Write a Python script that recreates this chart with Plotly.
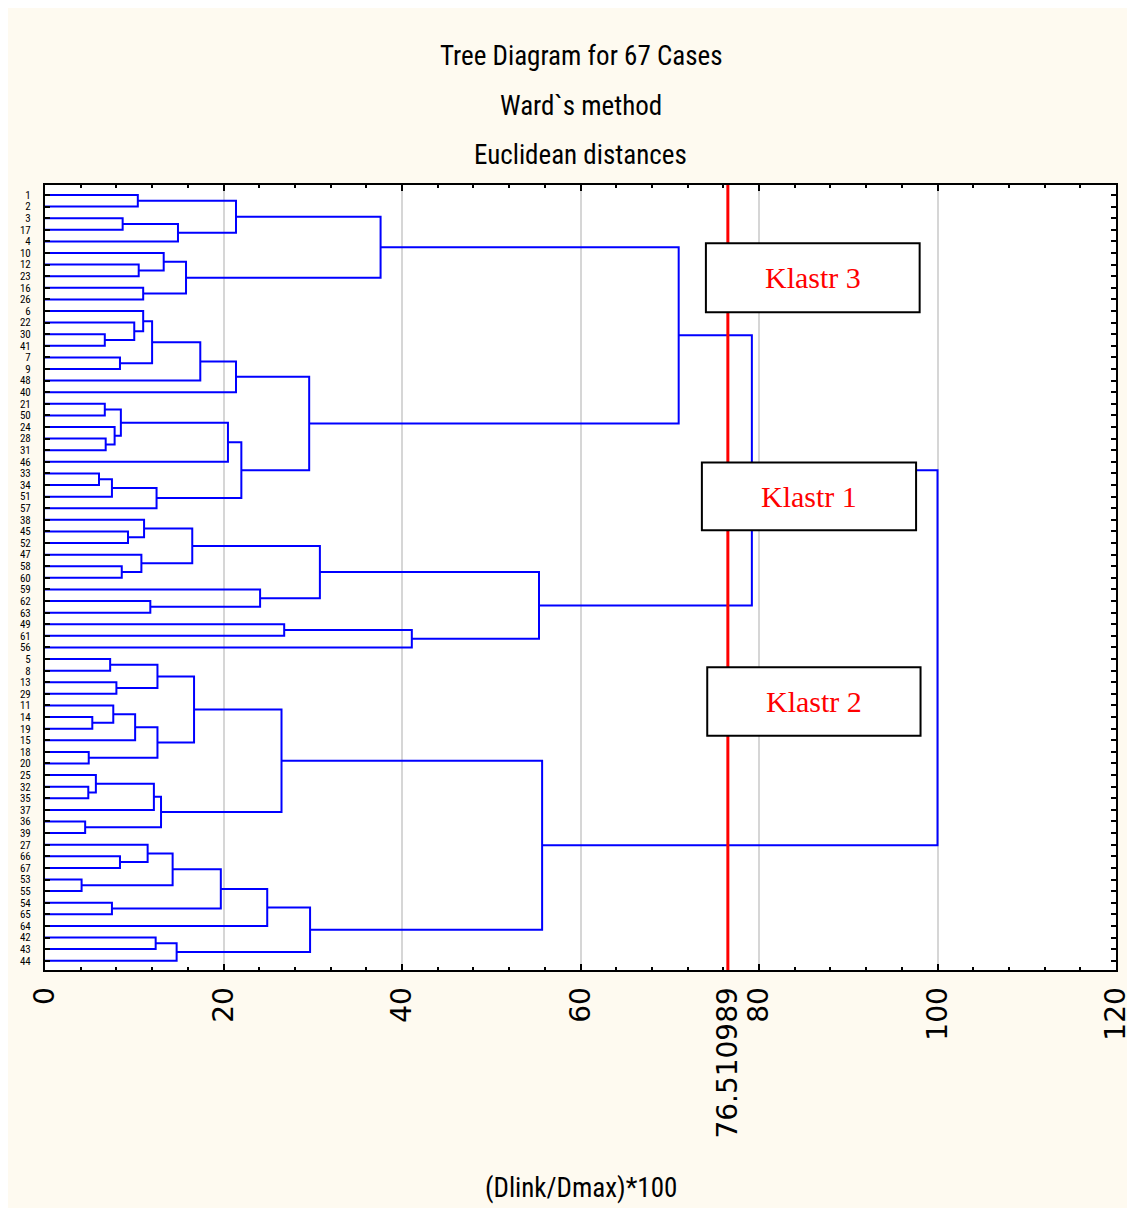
import plotly.graph_objects as go

# ---------------- data ----------------
leaf_labels = [1, 2, 3, 17, 4, 10, 12, 23, 16, 26, 6, 22, 30, 41, 7, 9, 48, 40,
               21, 50, 24, 28, 31, 46, 33, 34, 51, 57, 38, 45, 52, 47, 58, 60,
               59, 62, 63, 49, 61, 56, 5, 8, 13, 29, 11, 14, 19, 15, 18, 20,
               25, 32, 35, 37, 36, 39, 27, 66, 67, 53, 55, 54, 65, 64, 42, 43, 44]

# merges: children are case numbers ("17") or earlier merges ("M5"); merge k is "M{k}"
merge_left = ["1", "3", "M2", "M1", "12", "10", "16", "M6", "M4",
              "30", "22", "6", "7", "M12", "M14", "M15",
              "21", "28", "24", "M17", "M20", "33", "M22", "M23", "M21", "M16", "M9",
              "45", "38", "58", "47", "M29", "62", "59", "M32", "49", "M36", "M35", "M27",
              "5", "13", "M40", "14", "11", "M44", "18", "M45", "M42",
              "32", "25", "M50", "36", "M51", "M48",
              "66", "27", "53", "M56", "54", "M58", "M60", "42", "M62", "M61", "M54", "M39"]
merge_right = ["2", "17", "4", "M3", "23", "M5", "26", "M7", "M8",
               "41", "M10", "M11", "9", "M13", "48", "40",
               "50", "31", "M18", "M19", "46", "34", "51", "57", "M24", "M25", "M26",
               "52", "M28", "60", "M30", "M31", "63", "M33", "M34", "61", "56", "M37", "M38",
               "8", "29", "M41", "19", "M43", "15", "20", "M46", "M47",
               "35", "M49", "37", "39", "M52", "M53",
               "67", "M55", "55", "M57", "65", "M59", "64", "43", "44", "M63", "M64", "M65"]
merge_height = [10.4, 8.7, 14.9, 21.4, 10.5, 13.3, 11.0, 15.8, 37.6,
                6.7, 10.0, 11.0, 8.4, 12.0, 17.4, 21.4,
                6.7, 6.8, 7.8, 8.5, 20.5, 6.05, 7.5, 12.5, 22.0, 29.6, 71.0,
                9.3, 11.1, 8.6, 10.8, 16.5, 11.8, 24.1, 30.8, 26.8, 41.1, 55.35, 79.2,
                7.3, 8.0, 12.6, 5.3, 7.65, 10.1, 4.9, 12.6, 16.7,
                4.85, 5.7, 12.2, 4.5, 13.0, 26.5,
                8.4, 11.5, 4.1, 14.3, 7.5, 19.7, 24.9, 12.4, 14.75, 29.7, 55.7, 100.0]

cut_value = 76.510989
x_ticks = [0, 20, 40, 60, 80, 100, 120]
cluster_names = ["Klastr 3", "Klastr 1", "Klastr 2"]

title_lines = ["Tree Diagram for 67 Cases", "Ward`s method", "Euclidean distances"]
x_title = "(Dlink/Dmax)*100"

# ---------------- tree layout ----------------
pos = {}
for i, lab in enumerate(leaf_labels):
    pos[str(lab)] = (0.0, float(i))

xs, ys = [], []
for k, (a, b, h) in enumerate(zip(merge_left, merge_right, merge_height), start=1):
    xa, ya = pos[a]
    xb, yb = pos[b]
    xs += [xa, h, h, xb, None]
    ys += [ya, ya, yb, yb, None]
    pos["M%d" % k] = (h, (ya + yb) / 2.0)

fig = go.Figure()
fig.add_trace(go.Scatter(x=xs, y=ys, mode="lines",
                         line=dict(color="#0000FF", width=2),
                         hoverinfo="skip", showlegend=False))

narrow = "Liberation Sans Narrow, Arial Narrow, Roboto Condensed, Liberation Sans, sans-serif"

tickvals = sorted(x_ticks + [cut_value])
ticktext = [("%g" % v) if v != cut_value else "76.510989" for v in tickvals]

# page offset of 8px (body margin); plot area in page pixels: x 45..1116, y 185..970
W, H = 1127, 1200
L, T = 45 - 8, 185 - 8
R = (8 + W) - 1116
B = (8 + H) - 970
plot_h = 970 - 185

def py(pix):
    return (970 - pix) / plot_h

fig.update_layout(
    width=W, height=H,
    margin=dict(l=L, r=R, t=T, b=B, pad=0),
    paper_bgcolor="#FEFAF0",
    plot_bgcolor="#FFFFFF",
    showlegend=False,
    template="none",
)

fig.update_xaxes(
    range=[0, 120], autorange=False,
    tickmode="array", tickvals=tickvals, ticktext=ticktext,
    tickangle=-90, tickfont=dict(family="DejaVu Sans, Verdana, sans-serif", size=28, color="#000"),
    ticks="inside", ticklen=6, tickwidth=2, tickcolor="#000",
    minor=dict(dtick=4, tick0=0, ticks="inside", ticklen=3, tickwidth=1.5, tickcolor="#000", showgrid=False),
    showgrid=True, gridcolor="#D6D6D6", gridwidth=1.5,
    showline=True, linecolor="#000", linewidth=2, mirror="ticks",
    zeroline=False, automargin=False, ticklabelstandoff=4, ticklabeloverflow="allow",
)
fig.update_yaxes(
    range=[66.8, -0.86], autorange=False,
    tickmode="array", tickvals=list(range(len(leaf_labels))),
    ticktext=[str(v) for v in leaf_labels],
    tickfont=dict(family=narrow, size=11, color="#000"),
    ticks="inside", ticklen=5, tickwidth=2, tickcolor="#000",
    showgrid=False, showline=True, linecolor="#000", linewidth=2, mirror="ticks",
    zeroline=False, automargin=False, ticklabelstandoff=10,
)

# cut line
fig.add_shape(type="line", xref="x", yref="paper", x0=cut_value, x1=cut_value, y0=0, y1=1,
              line=dict(color="#FF0000", width=3), layer="above")

# cluster boxes (x in data units, y in leaf-position units)
box_x = [(74.05, 98.0), (73.6, 97.6), (74.2, 98.1)]
box_y = [(4.15, 10.1), (23.05, 28.9), (40.7, 46.6)]
for name, (x0, x1), (y0, y1) in zip(cluster_names, box_x, box_y):
    fig.add_shape(type="rect", xref="x", yref="y", x0=x0, x1=x1, y0=y0, y1=y1,
                  fillcolor="#FFFFFF", line=dict(color="#000", width=2), layer="above")
    fig.add_annotation(x=(x0 + x1) / 2, y=(y0 + y1) / 2, xref="x", yref="y",
                       text=name, showarrow=False,
                       font=dict(family="Liberation Serif, Times New Roman, serif", size=30, color="#FF0000"))

for txt, pix in zip(title_lines, [56, 106, 155]):
    fig.add_annotation(x=0.5, y=py(pix), xref="paper", yref="paper", text=txt, showarrow=False,
                       yanchor="middle", font=dict(family=narrow, size=27, color="#000"))
fig.add_annotation(x=0.5, y=py(1188), xref="paper", yref="paper", text=x_title, showarrow=False,
                   yanchor="middle", font=dict(family=narrow, size=27, color="#000"))

fig.write_html("out.html")
